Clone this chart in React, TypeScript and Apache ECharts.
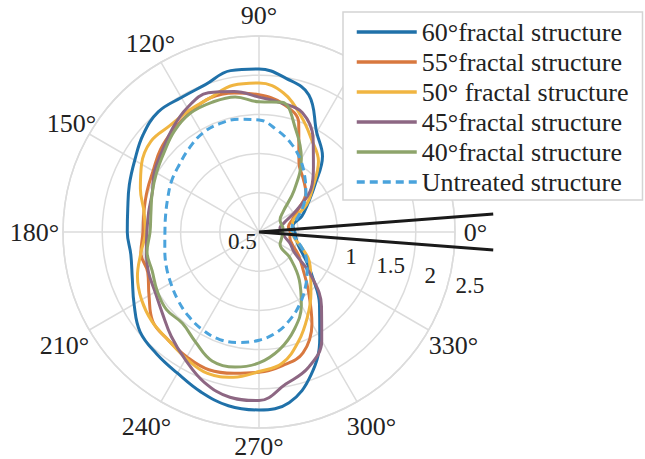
import React, { useEffect, useRef } from 'react';
import * as echarts from 'echarts';

// Angles (degrees) at which the radii were read
const angles = [0, 10, 20, 30, 40, 50, 60, 70, 80, 90, 100, 110, 120, 130, 140, 150, 160, 170,
  180, 190, 200, 210, 220, 230, 240, 250, 260, 270, 280, 290, 300, 310, 320, 330, 340, 350];

const r60 = [0.46, 0.44, 0.58, 0.72, 0.93, 1.26, 1.47, 1.86, 1.99, 2.08, 2.09, 2.00, 1.98, 2.00, 1.93, 1.83, 1.76, 1.70,
  1.68, 1.66, 1.72, 1.84, 1.98, 2.03, 2.08, 2.17, 2.25, 2.27, 2.21, 1.94, 1.55, 1.20, 0.89, 0.68, 0.54, 0.48];
const r55 = [0.40, 0.38, 0.45, 0.58, 0.78, 0.88, 1.02, 1.48, 1.67, 1.75, 1.80, 1.82, 1.76, 1.70, 1.64, 1.56, 1.52, 1.49,
  1.48, 1.53, 1.51, 1.62, 1.77, 1.80, 1.84, 1.87, 1.83, 1.79, 1.73, 1.64, 1.35, 0.98, 0.73, 0.58, 0.45, 0.40];
const r50 = [0.42, 0.43, 0.47, 0.70, 0.90, 1.18, 1.35, 1.57, 1.80, 1.90, 1.90, 1.82, 1.79, 1.77, 1.80, 1.73, 1.61, 1.49,
  1.45, 1.53, 1.65, 1.73, 1.78, 1.80, 1.86, 1.92, 1.88, 1.78, 1.70, 1.48, 1.24, 1.03, 0.86, 0.74, 0.58, 0.46];
const r45 = [0.30, 0.27, 0.34, 0.55, 0.87, 1.08, 1.38, 1.62, 1.67, 1.72, 1.82, 1.89, 1.83, 1.72, 1.61, 1.54, 1.45, 1.43,
  1.43, 1.46, 1.50, 1.53, 1.61, 1.74, 1.88, 2.04, 2.14, 2.15, 1.97, 1.84, 1.60, 1.24, 0.87, 0.52, 0.42, 0.33];
const r40 = [0.30, 0.31, 0.30, 0.31, 0.40, 0.70, 1.08, 1.38, 1.68, 1.66, 1.75, 1.76, 1.75, 1.68, 1.58, 1.51, 1.45, 1.40,
  1.39, 1.45, 1.45, 1.50, 1.54, 1.52, 1.62, 1.75, 1.75, 1.67, 1.52, 1.32, 1.08, 0.80, 0.52, 0.31, 0.30, 0.30];
const rUntreated = [0.42, 0.43, 0.52, 0.65, 0.78, 0.91, 1.06, 1.20, 1.32, 1.43, 1.46, 1.47, 1.45, 1.39, 1.33, 1.29, 1.24, 1.21,
  1.20, 1.22, 1.26, 1.30, 1.35, 1.40, 1.44, 1.46, 1.43, 1.38, 1.30, 1.18, 1.05, 0.92, 0.80, 0.70, 0.58, 0.47];

// black reference wedge: [radius, angle]
const wedgeR = [3.0, 0, 3.0];
const wedgeA = [4.4, 0, 355.6];

const seriesNames = ['60°fractal structure', '55°fractal structure', '50° fractal structure',
  '45°fractal structure', '40°fractal structure', 'Untreated structure'];
const seriesValues = [r60, r55, r50, r45, r40, rUntreated];
const seriesColors = ['#2071a9', '#d8783f', '#f0b541', '#8d6783', '#8ea46b', '#4aa3dc'];

const radiusTicks = [0, 0.5, 1, 1.5, 2, 2.5];
// angle tick labels (30° and 60° lie under the legend box)
const angleLabelsNear = [0, 90, 120, 150];
const angleLabelsBottom = [270];
const angleLabelsFar = [180, 210, 240, 300, 330];

const FONT = 'Liberation Serif, Times New Roman, DejaVu Serif, serif';
const GRID = '#dcdcdc';

export default function App() {
  const ref = useRef<HTMLDivElement>(null);

  useEffect(() => {
    if (!ref.current) return;
    const chart = echarts.init(ref.current, undefined, { renderer: 'svg' });

    const series: any[] = seriesValues.map((vals, i) => {
      const data = vals.map((v, j) => [v, angles[j]]);
      data.push([vals[0], 360]);
      return {
        name: seriesNames[i],
        type: 'line',
        coordinateSystem: 'polar',
        polarIndex: 0,
        data,
        smooth: 0.4,
        symbol: 'none',
        clip: false,
        z: 3 + i,
        lineStyle: {
          color: seriesColors[i],
          width: 3,
          type: i === 5 ? [8, 5] : 'solid',
        },
        itemStyle: { color: seriesColors[i] },
      };
    });

    series.push({
      name: 'wedge',
      type: 'line',
      coordinateSystem: 'polar',
      polarIndex: 2,
      data: wedgeR.map((r, i) => [r, wedgeA[i]]),
      symbol: 'none',
      clip: false,
      silent: true,
      z: 20,
      lineStyle: { color: '#1a1a1a', width: 3 },
    });

    const hiddenAxis = {
      axisLine: { show: false },
      axisTick: { show: false },
      axisLabel: { show: false },
      splitLine: { show: false },
    };

    const pointLabel = (list: number[]) => ({
      show: true,
      margin: 0,
      formatter: (v: number) => (list.indexOf(v) >= 0 ? '{a|' + v + '°}' : ''),
      rich: {
        a: {
          width: 1,
          height: 2,
          lineHeight: 2,
          align: 'center',
          verticalAlign: 'middle',
          fontFamily: FONT,
          fontSize: 26,
          color: '#222',
        },
      },
    });

    const labelAngleAxis = (idx: number, list: number[]) => ({
      polarIndex: idx,
      type: 'value',
      min: 0,
      max: 360,
      interval: 30,
      startAngle: 0,
      clockwise: false,
      axisLine: { show: false },
      axisTick: { show: false },
      splitLine: { show: false },
      axisLabel: pointLabel(list),
    });

    const option: any = {
      animation: false,
      backgroundColor: '#ffffff',
      textStyle: { fontFamily: FONT },
      polar: [
        { center: [259, 232], radius: 196 },
        { center: [271.7, 236.7], radius: 204 },
        { center: [259, 232], radius: 235.2 },
        { center: [259, 232], radius: 216 },
        { center: [259, 232], radius: 224 },
        { center: [259, 232], radius: 213 },
      ],
      angleAxis: [
        {
          polarIndex: 0,
          type: 'value',
          min: 0,
          max: 360,
          interval: 30,
          startAngle: 0,
          clockwise: false,
          axisLine: { show: true, lineStyle: { color: GRID, width: 1.5 } },
          axisTick: { show: false },
          axisLabel: { show: false },
          splitLine: { show: true, lineStyle: { color: GRID, width: 1.5 } },
        },
        {
          polarIndex: 1,
          type: 'value',
          min: 0,
          max: 360,
          startAngle: -13.7,
          clockwise: false,
          ...hiddenAxis,
        },
        {
          polarIndex: 2,
          type: 'value',
          min: 0,
          max: 360,
          startAngle: 0,
          clockwise: false,
          ...hiddenAxis,
        },
        labelAngleAxis(3, angleLabelsNear),
        labelAngleAxis(4, angleLabelsFar),
        labelAngleAxis(5, angleLabelsBottom),
      ],
      radiusAxis: [
        {
          polarIndex: 0,
          type: 'value',
          min: 0,
          max: 2.5,
          interval: 0.5,
          axisLine: { show: false },
          axisTick: { show: false },
          axisLabel: { show: false },
          splitLine: { show: true, lineStyle: { color: GRID, width: 1.5 } },
        },
        {
          polarIndex: 1,
          type: 'value',
          min: radiusTicks[0],
          max: radiusTicks[radiusTicks.length - 1],
          interval: 0.5,
          axisLine: { show: false },
          axisTick: { show: false },
          splitLine: { show: false },
          axisLabel: {
            margin: 0,
            align: 'center',
            verticalAlign: 'middle',
            fontFamily: FONT,
            fontSize: 23,
            color: '#222',
            formatter: (v: number) => {
              if (v === 0) return '';
              if (v === 0.5) return '{s|0.5}';
              return String(v);
            },
            rich: {
              s: {
                fontFamily: FONT,
                fontSize: 23,
                color: '#222',
                padding: [0, 138, 10, 0],
              },
            },
          },
        },
        { polarIndex: 2, type: 'value', min: 0, max: 3, ...hiddenAxis },
        { polarIndex: 3, type: 'value', min: 0, max: 1, ...hiddenAxis },
        { polarIndex: 4, type: 'value', min: 0, max: 1, ...hiddenAxis },
        { polarIndex: 5, type: 'value', min: 0, max: 1, ...hiddenAxis },
      ],
      legend: {
        data: seriesNames,
        orient: 'vertical',
        left: 343,
        top: 12,
        padding: [7, 14, 5, 12],
        itemGap: 4,
        itemWidth: 60,
        itemHeight: 14,
        backgroundColor: '#ffffff',
        borderColor: '#d4d4d4',
        borderWidth: 1.5,
        borderRadius: 0,
        itemStyle: { opacity: 0 },
        lineStyle: { width: 3.5 },
        textStyle: { fontFamily: FONT, fontSize: 26, color: '#222' },
        z: 30,
      },
      series,
    };

    chart.setOption(option);
    return () => chart.dispose();
  }, []);

  return (
    <div
      ref={ref}
      style={{ position: 'fixed', left: 0, top: 0, width: 645, height: 459, background: '#fff' }}
    />
  );
}
